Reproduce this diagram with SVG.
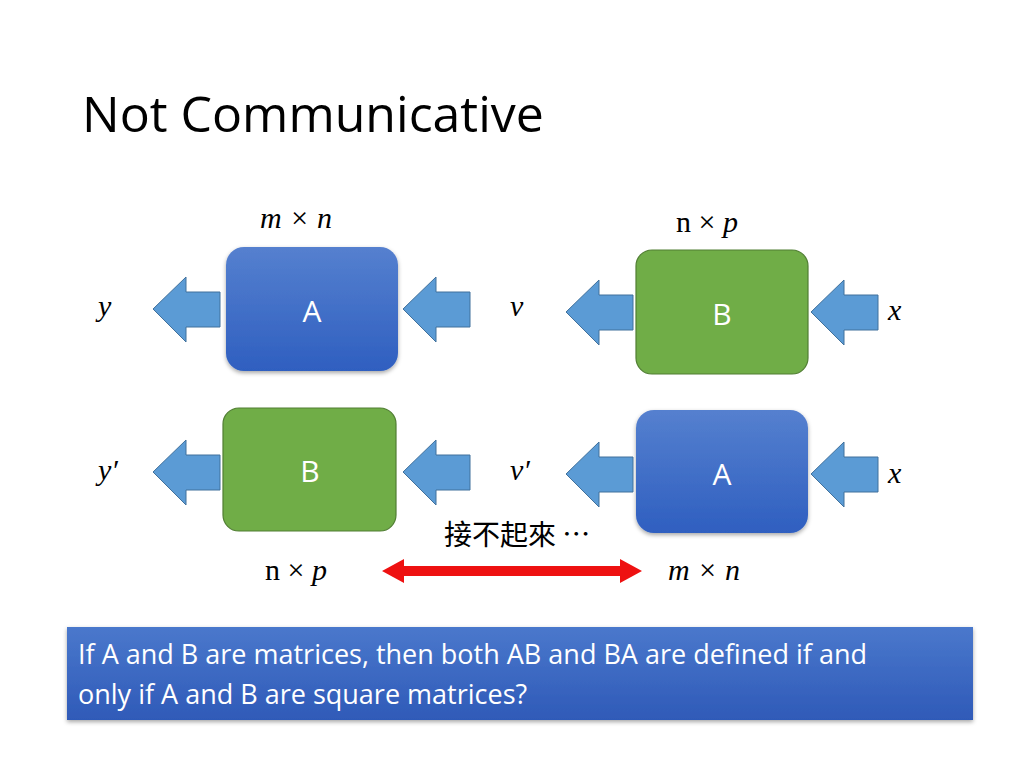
<svg xmlns="http://www.w3.org/2000/svg" width="1024" height="768" viewBox="0 0 1024 768">
<defs>
<linearGradient id="gb" x1="0" y1="0" x2="0" y2="1"><stop offset="0" stop-color="#5580cf"/><stop offset="1" stop-color="#2f5fc0"/></linearGradient>
<linearGradient id="gbar" x1="0" y1="0" x2="0" y2="1"><stop offset="0" stop-color="#4a78cc"/><stop offset="1" stop-color="#2f5ab8"/></linearGradient>
<path id="ar" d="M0,32 L33,0 L33,15 L67,15 L67,50 L33,50 L33,65 Z" fill="#5b9bd5" stroke="#41719c" stroke-width="1"/>
<filter id="sh"><feDropShadow dx="0" dy="2" stdDeviation="2" flood-opacity="0.35"/></filter>
</defs>
<style>
.t{font-family:"Liberation Sans",Arial,sans-serif}
.m{font-family:"Liberation Serif","Times New Roman",serif;font-style:italic;font-size:30px}
.r{font-family:"Liberation Serif","Times New Roman",serif;font-size:30px}
.bl{fill:#fff;font-family:"Open Sans","Liberation Sans",sans-serif;font-size:30px;text-anchor:middle}
</style>
<rect width="1024" height="768" fill="#fff"/>
<text x="82" y="132" font-family="'Open Sans','Liberation Sans',sans-serif" font-size="50" fill="#000">Not Communicative</text>
<g id="nodes">
<g id="A1"><rect x="226" y="247" width="172" height="124" rx="18" fill="url(#gb)" filter="url(#sh)"/><text class="bl" x="312" y="322">A</text></g>
<g id="B1"><rect x="636" y="250" width="172" height="124" rx="16" fill="#70ad47" stroke="#507e32" stroke-width="1.2"/><text class="bl" x="722" y="325">B</text></g>
<g id="B2"><rect x="223" y="408" width="173" height="123" rx="16" fill="#70ad47" stroke="#507e32" stroke-width="1.2"/><text class="bl" x="310" y="482">B</text></g>
<g id="A2"><rect x="636" y="410" width="172" height="123" rx="18" fill="url(#gb)" filter="url(#sh)"/><text class="bl" x="722" y="485">A</text></g>
</g>
<g id="connectors">
<use href="#ar" x="153" y="277"/><use href="#ar" x="403" y="277"/>
<use href="#ar" x="566" y="280"/><use href="#ar" x="811" y="280"/>
<use href="#ar" x="153" y="440"/><use href="#ar" x="403" y="440"/>
<use href="#ar" x="566" y="442"/><use href="#ar" x="811" y="442"/>
<path d="M382,571 L404,559 L404,566 L620,566 L620,559 L642,571 L620,583 L620,576 L404,576 L404,583 Z" fill="#ee1111"/>
</g>
<g id="labels">
<text class="m" x="260" y="228">m × n</text>
<text class="r" x="676" y="232">n <tspan font-style="normal">×</tspan> <tspan font-style="italic">p</tspan></text>
<text class="m" x="98" y="316">y</text>
<text class="m" x="510" y="316">v</text>
<text class="m" x="888" y="320">x</text>
<text class="m" x="98" y="480">y′</text>
<text class="m" x="510" y="480">v′</text>
<text class="m" x="888" y="483">x</text>
<text x="444" y="545" font-family="'Noto Sans CJK TC','Noto Sans CJK SC',sans-serif" font-size="28">接不起來 …</text>
<text class="r" x="265" y="580">n × <tspan font-style="italic">p</tspan></text>
<text class="m" x="668" y="580">m × n</text>
</g>
<g id="note">
<rect x="67" y="627" width="906" height="93" fill="url(#gbar)" filter="url(#sh)"/>
<text font-family="'Open Sans','Liberation Sans',sans-serif" font-size="27" fill="#fff"><tspan x="78" y="664">If A and B are matrices, then both AB and BA are defined if and</tspan><tspan x="78" y="704">only if A and B are square matrices?</tspan></text>
</g>
</svg>
